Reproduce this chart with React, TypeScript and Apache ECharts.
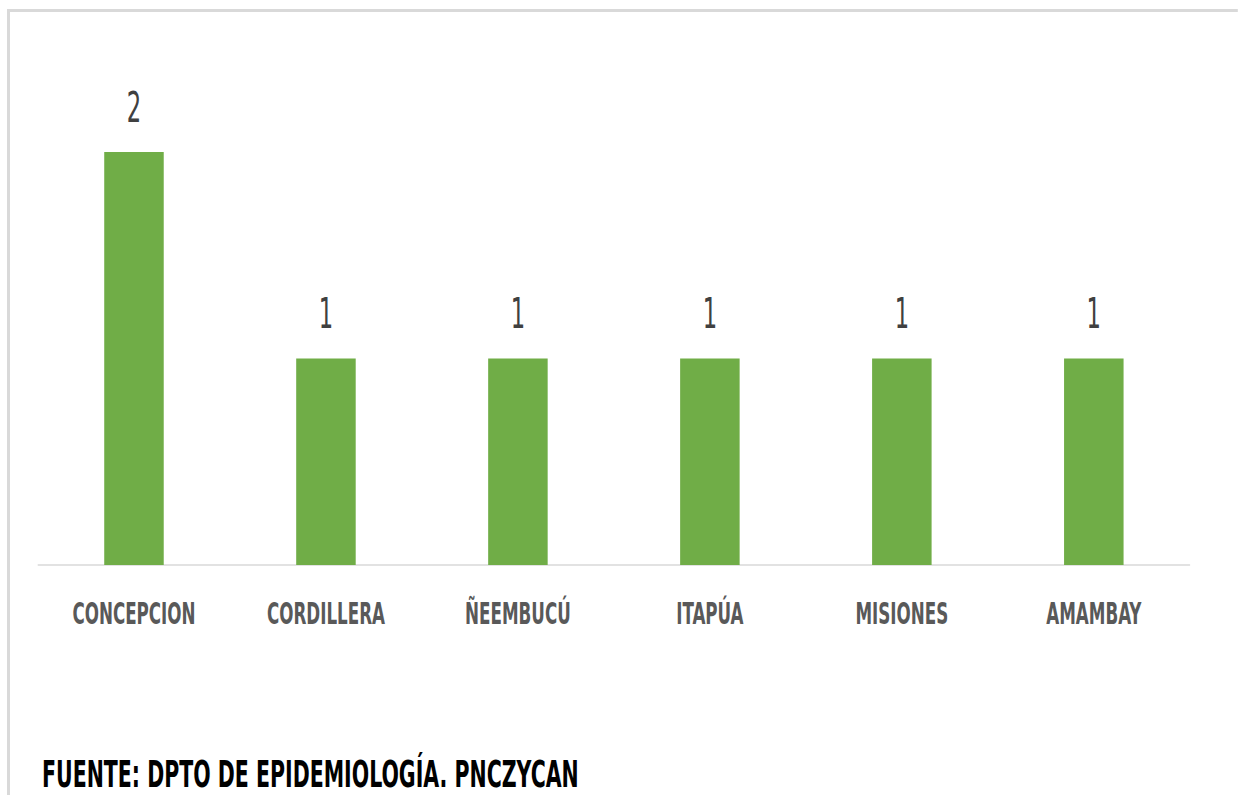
import React, { useEffect, useRef } from "react";
import * as echarts from "echarts";

const categories = ["CONCEPCION", "CORDILLERA", "ÑEEMBUCÚ", "ITAPÚA", "MISIONES", "AMAMBAY"];
const values = [2, 1, 1, 1, 1, 1];
const footerText = "FUENTE: DPTO DE EPIDEMIOLOGÍA. PNCZYCAN";

const FONT = "'DejaVu Sans Condensed', 'DejaVu Sans', sans-serif";
const W = 1238;
const H = 795;
const SX = 0.6; // horizontal squeeze of the whole drawing (narrow lettering)
const IW = W / SX;

export default function App() {
  const ref = useRef<HTMLDivElement>(null);
  useEffect(() => {
    document.body.style.margin = "0";
    const chart = echarts.init(ref.current!, null, { renderer: "svg" });
    chart.setOption({
      animation: false,
      backgroundColor: "#ffffff",
      grid: { left: 38 / SX, right: 48 / SX, top: 152, bottom: 230 },
      xAxis: {
        type: "category",
        data: categories,
        axisLine: { show: true, lineStyle: { color: "#d9d9d9", width: 1.5 } },
        axisTick: { show: false },
        axisLabel: {
          color: "#595959",
          fontFamily: FONT,
          fontWeight: "bold",
          fontSize: 31,
          margin: 33,
          interval: 0,
        },
      },
      yAxis: {
        type: "value",
        min: 0,
        max: 2,
        show: false,
        splitLine: { show: false },
      },
      series: [
        {
          type: "bar",
          data: values,
          barWidth: "31%",
          itemStyle: { color: "#70ad47" },
          label: {
            show: true,
            position: "top",
            distance: 24,
            color: "#404040",
            fontFamily: FONT,
            fontSize: 42,
          },
        },
      ],
      graphic: [
        {
          type: "line",
          shape: { x1: 8.5 / SX, y1: 10.5, x2: IW + 10, y2: 10.5 },
          style: { stroke: "#d9d9d9", lineWidth: 3 },
          silent: true,
        },
        {
          type: "line",
          shape: { x1: 8.5 / SX, y1: 9, x2: 8.5 / SX, y2: H + 10 },
          style: { stroke: "#d9d9d9", lineWidth: 3 / SX },
          silent: true,
        },
        {
          type: "text",
          left: 42 / SX,
          top: 755,
          style: {
            text: footerText,
            fill: "#000000",
            font: "bold 38px " + FONT,
          },
        },
      ],
    });
    return () => chart.dispose();
  }, []);
  return (
    <div style={{ width: W, height: H, overflow: "hidden", position: "relative", background: "#fff" }}>
      <div
        ref={ref}
        style={{
          width: IW,
          height: H,
          transform: `scaleX(${SX})`,
          transformOrigin: "0 0",
          position: "absolute",
          left: 0,
          top: 0,
        }}
      />
    </div>
  );
}
